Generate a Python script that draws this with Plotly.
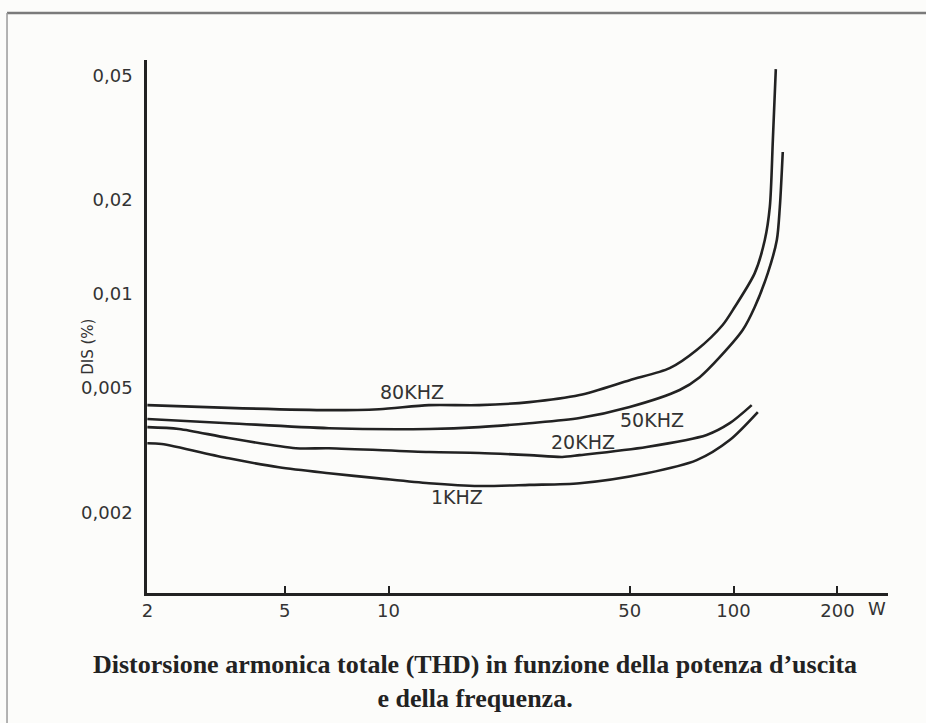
import numpy as np
import plotly.graph_objects as go

# Output power (W) and total harmonic distortion (%) for each test frequency
p_80k = [2.0, 3.44, 6.72, 9.39, 13.1, 18.3, 25.6, 35.8, 50.0, 65.3, 78.2, 93.0, 100.8, 115.2, 123.2, 127.4, 130.0, 132.6]
thd_80k = [0.00441, 0.00432, 0.00425, 0.00428, 0.00441, 0.00441, 0.00451, 0.00475, 0.00530, 0.00579, 0.00662,
           0.00796, 0.00909, 0.01167, 0.01489, 0.0190, 0.0311, 0.0525]

p_50k = [2.0, 3.44, 6.72, 13.1, 18.3, 25.6, 35.8, 50.0, 69.8, 79.8, 91.2, 106.3, 115.2, 125.7, 133.5, 136.2, 138.9]
thd_50k = [0.00398, 0.00386, 0.00372, 0.00370, 0.00375, 0.00386, 0.00401, 0.00435, 0.00493, 0.00542, 0.00628,
           0.00767, 0.00909, 0.01167, 0.01489, 0.0190, 0.0285]

p_20k = [2.0, 2.47, 3.44, 5.39, 6.72, 13.1, 18.3, 25.6, 31.9, 35.8, 56.0, 83.6, 97.5, 112.9]
thd_20k = [0.00375, 0.00370, 0.00346, 0.00321, 0.00321, 0.00312, 0.00310, 0.00305, 0.00301, 0.00305, 0.00324,
           0.00354, 0.00386, 0.00441]

p_1k = [2.0, 2.20, 3.44, 4.81, 6.72, 9.39, 13.1, 18.3, 25.6, 35.8, 56.0, 78.2, 97.5, 117.6]
thd_1k = [0.00333, 0.00331, 0.00298, 0.00279, 0.00267, 0.00257, 0.00248, 0.00243, 0.00245, 0.00248, 0.00267,
          0.00294, 0.00341, 0.00419]

series = [
    ("80KHZ", p_80k, thd_80k, 11.7, 0.00486),
    ("50KHZ", p_50k, thd_50k, 57.9, 0.00395),
    ("20KHZ", p_20k, thd_20k, 36.5, 0.00336),
    ("1KHZ", p_1k, thd_1k, 15.8, 0.00224),
]

x_ticks = [2, 5, 10, 50, 100, 200]
x_tick_text = ["2", "5", "10", "50", "100", "200"]
y_ticks = [0.05, 0.02, 0.01, 0.005, 0.002]
y_tick_text = ["0,05", "0,02", "0,01", "0,005", "0,002"]

INK = "#222222"
TEXT = "#333333"
SANS = "DejaVu Sans, Verdana, sans-serif"
SERIF = "Liberation Serif, Times New Roman, serif"

fig = go.Figure()
for name, px, thd, lx, ly in series:
    fig.add_trace(go.Scatter(
        x=px, y=thd, mode="lines", name=name,
        line=dict(color=INK, width=2.6, shape="spline", smoothing=0.8),
        hoverinfo="x+y+name",
    ))
    fig.add_annotation(x=np.log10(lx), y=np.log10(ly), text=name, showarrow=False,
                       xanchor="center", yanchor="middle",
                       font=dict(family=SANS, size=19, color=TEXT))

# unit label after the last x tick
fig.add_annotation(xref="paper", yref="paper", x=0.985, y=-0.030, text="W", showarrow=False,
                   xanchor="center", yanchor="middle",
                   font=dict(family=SANS, size=18, color=TEXT))
# rotated y-axis title
fig.add_annotation(xref="paper", yref="paper", x=-0.0796, y=0.462, text="DIS (%)", textangle=-90,
                   xanchor="center", yanchor="middle",
                   showarrow=False, font=dict(family=SANS, size=15, color=TEXT))
# caption
fig.add_annotation(xref="paper", yref="paper", x=0.443, y=-0.166,
                   text="<b>Distorsione armonica totale (THD) in funzione della potenza d’uscita</b>"
                        "<br><b>e della frequenza.</b>",
                   xanchor="center", yanchor="middle", align="center",
                   showarrow=False, font=dict(family=SERIF, size=26, color="#222222"))

# page frame (top and left edges visible)
fig.add_shape(type="line", xref="paper", yref="paper", x0=-0.1889, x1=1.06, y0=1.0882, y1=1.0882,
              line=dict(color="#7a7a7a", width=2.5))
fig.add_shape(type="line", xref="paper", yref="paper", x0=-0.1889, x1=-0.1889, y0=1.0882, y1=-0.26,
              line=dict(color="#9a9a9a", width=1.5))

fig.update_xaxes(
    type="log", range=[0.300, 2.4477],
    tickvals=x_ticks, ticktext=x_tick_text,
    showline=True, linecolor=INK, linewidth=2.5,
    ticks="inside", ticklen=7, tickwidth=2, tickcolor=INK,
    showgrid=False, zeroline=False,
    ticklabelstandoff=0,
    tickfont=dict(family=SANS, size=18, color=TEXT),
)
fig.update_yaxes(
    type="log", range=[-2.957, -1.2507],
    tickvals=y_ticks, ticktext=y_tick_text,
    showline=True, linecolor=INK, linewidth=2.5,
    ticks="", showgrid=False, zeroline=False,
    ticklabelstandoff=8,
    tickfont=dict(family=SANS, size=18, color=TEXT),
)

fig.update_layout(
    width=926, height=723,
    margin=dict(l=147, r=38, t=60, b=130),
    paper_bgcolor="#fcfcfa", plot_bgcolor="#fcfcfa",
    showlegend=False,
)

fig.write_html("out.html")
